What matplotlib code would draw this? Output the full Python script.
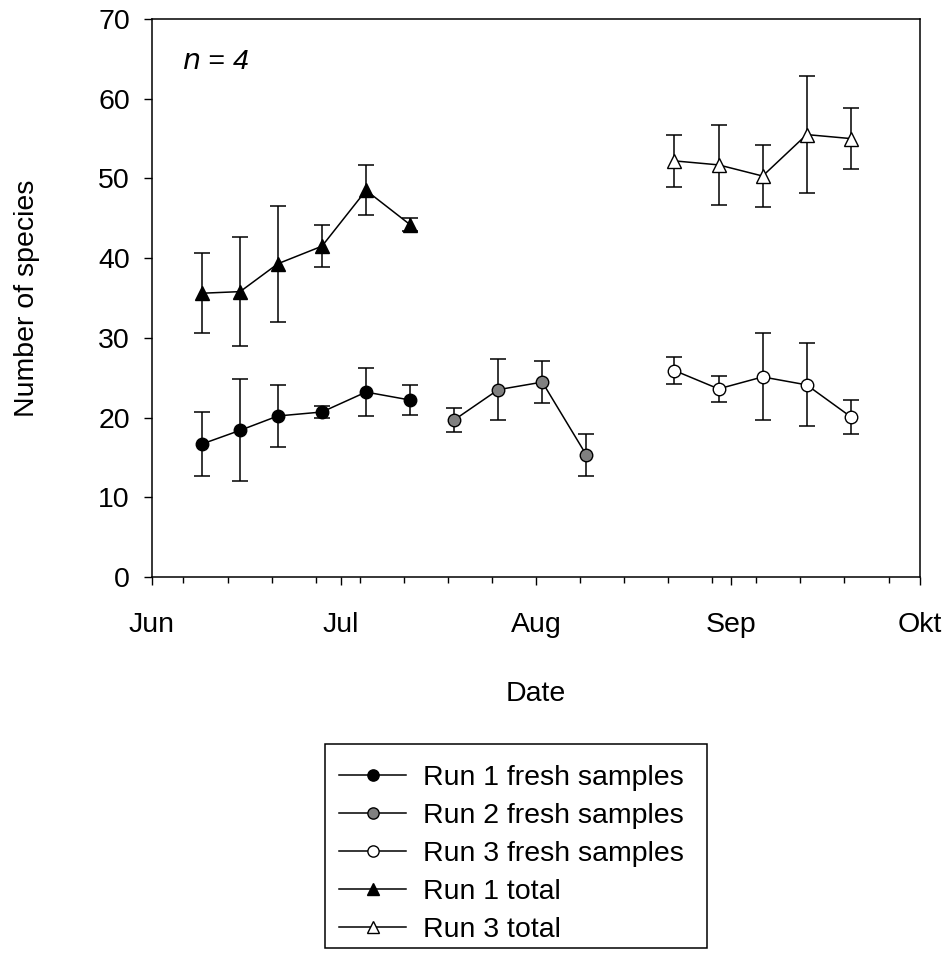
import datetime as dt
import matplotlib
matplotlib.use("Agg")
import matplotlib.pyplot as plt
import matplotlib.dates as mdates
from matplotlib.ticker import FixedLocator, FixedFormatter
from matplotlib.patches import Rectangle

plt.rcParams['font.family'] = ['Liberation Sans', 'DejaVu Sans']

Y = 2005
def d(m, day):
    return dt.datetime(Y, m, day)

# ---- data ----
run1_dates = [d(6, 9), d(6, 15), d(6, 21), d(6, 28), d(7, 5), d(7, 12)]
run1_fresh = [16.7, 18.4, 20.2, 20.7, 23.2, 22.2]
run1_fresh_sd = [4.0, 6.4, 3.9, 0.7, 3.0, 1.9]
run1_total = [35.6, 35.8, 39.3, 41.5, 48.5, 44.2]
run1_total_sd = [5.0, 6.85, 7.25, 2.65, 3.15, 0.8]

run2_dates = [d(7, 19), d(7, 26), d(8, 2), d(8, 9)]
run2_fresh = [19.7, 23.5, 24.45, 15.3]
run2_fresh_sd = [1.45, 3.8, 2.65, 2.6]

run3_dates = [d(8, 23), d(8, 30), d(9, 6), d(9, 13), d(9, 20)]
run3_fresh = [25.9, 23.6, 25.1, 24.1, 20.1]
run3_fresh_sd = [1.7, 1.65, 5.45, 5.2, 2.15]
run3_total = [52.2, 51.7, 50.3, 55.5, 55.0]
run3_total_sd = [3.3, 5.0, 3.9, 7.3, 3.8]

month_ticks = [d(6, 1), d(7, 1), d(8, 1), d(9, 1), d(10, 1)]
month_labels = ['Jun', 'Jul', 'Aug', 'Sep', 'Okt']

series = [
    ("Run 1 fresh samples", run1_dates, run1_fresh, run1_fresh_sd, 'o', 'black'),
    ("Run 2 fresh samples", run2_dates, run2_fresh, run2_fresh_sd, 'o', '#808080'),
    ("Run 3 fresh samples", run3_dates, run3_fresh, run3_fresh_sd, 'o', 'white'),
    ("Run 1 total", run1_dates, run1_total, run1_total_sd, '^', 'black'),
    ("Run 3 total", run3_dates, run3_total, run3_total_sd, '^', 'white'),
]

FS = 20.5
W, H = 942, 958
fig = plt.figure(figsize=(W/100, H/100), dpi=100)
ax = fig.add_axes([152/W, 1 - 577/H, 768/W, 558/H])

handles = []
for label, x, y, sd, mk, fc in series:
    ax.errorbar(x, y, yerr=sd, fmt='none', ecolor='black', elinewidth=1.1,
                capsize=6, capthick=1.1, zorder=2)
    ms = 9 if mk == 'o' else 10
    h, = ax.plot(x, y, color='black', lw=1.1, marker=mk, ms=ms,
                 mfc=fc, mec='black', mew=1.0, zorder=3, label=label)
    handles.append(h)

ax.set_xlim(d(6, 1), d(10, 1))
ax.set_ylim(0, 70)
ax.set_yticks(range(0, 71, 10))
ax.xaxis.set_major_locator(FixedLocator(mdates.date2num(month_ticks)))
ax.xaxis.set_major_formatter(FixedFormatter(month_labels))
ax.xaxis.set_minor_locator(mdates.WeekdayLocator(byweekday=mdates.MO))

ax.tick_params(axis='both', which='major', direction='out', length=6, width=1,
               labelsize=FS, colors='black')
ax.tick_params(axis='x', which='major', pad=19)
ax.tick_params(axis='y', which='major', pad=10)
ax.tick_params(axis='x', which='minor', direction='out', length=4, width=1)
for s in ax.spines.values():
    s.set_linewidth(1.1)

ax.set_xlabel('Date', fontsize=FS, labelpad=31)
ax.set_ylabel('Number of species', fontsize=FS, labelpad=42)

ax.text(0.039, 0.923, r'$n$ = 4', transform=ax.transAxes, fontsize=FS,
        fontstyle='italic', va='center', ha='left')

# legend frame drawn as a rectangle in figure pixels
fig.patches.append(Rectangle((325/W, 1 - 948/H), (707-325)/W, (948-744)/H,
                             transform=fig.transFigure, fill=False,
                             edgecolor='black', lw=1.1))
leg = fig.legend(handles=handles, loc='upper left',
                 bbox_to_anchor=(325/W, 1 - 751/H),
                 fontsize=FS, frameon=False,
                 handlelength=2.35, handletextpad=0.6, labelspacing=0.42,
                 borderpad=0.5, borderaxespad=0, markerscale=0.9)

fig.savefig('out.png', dpi=100)
